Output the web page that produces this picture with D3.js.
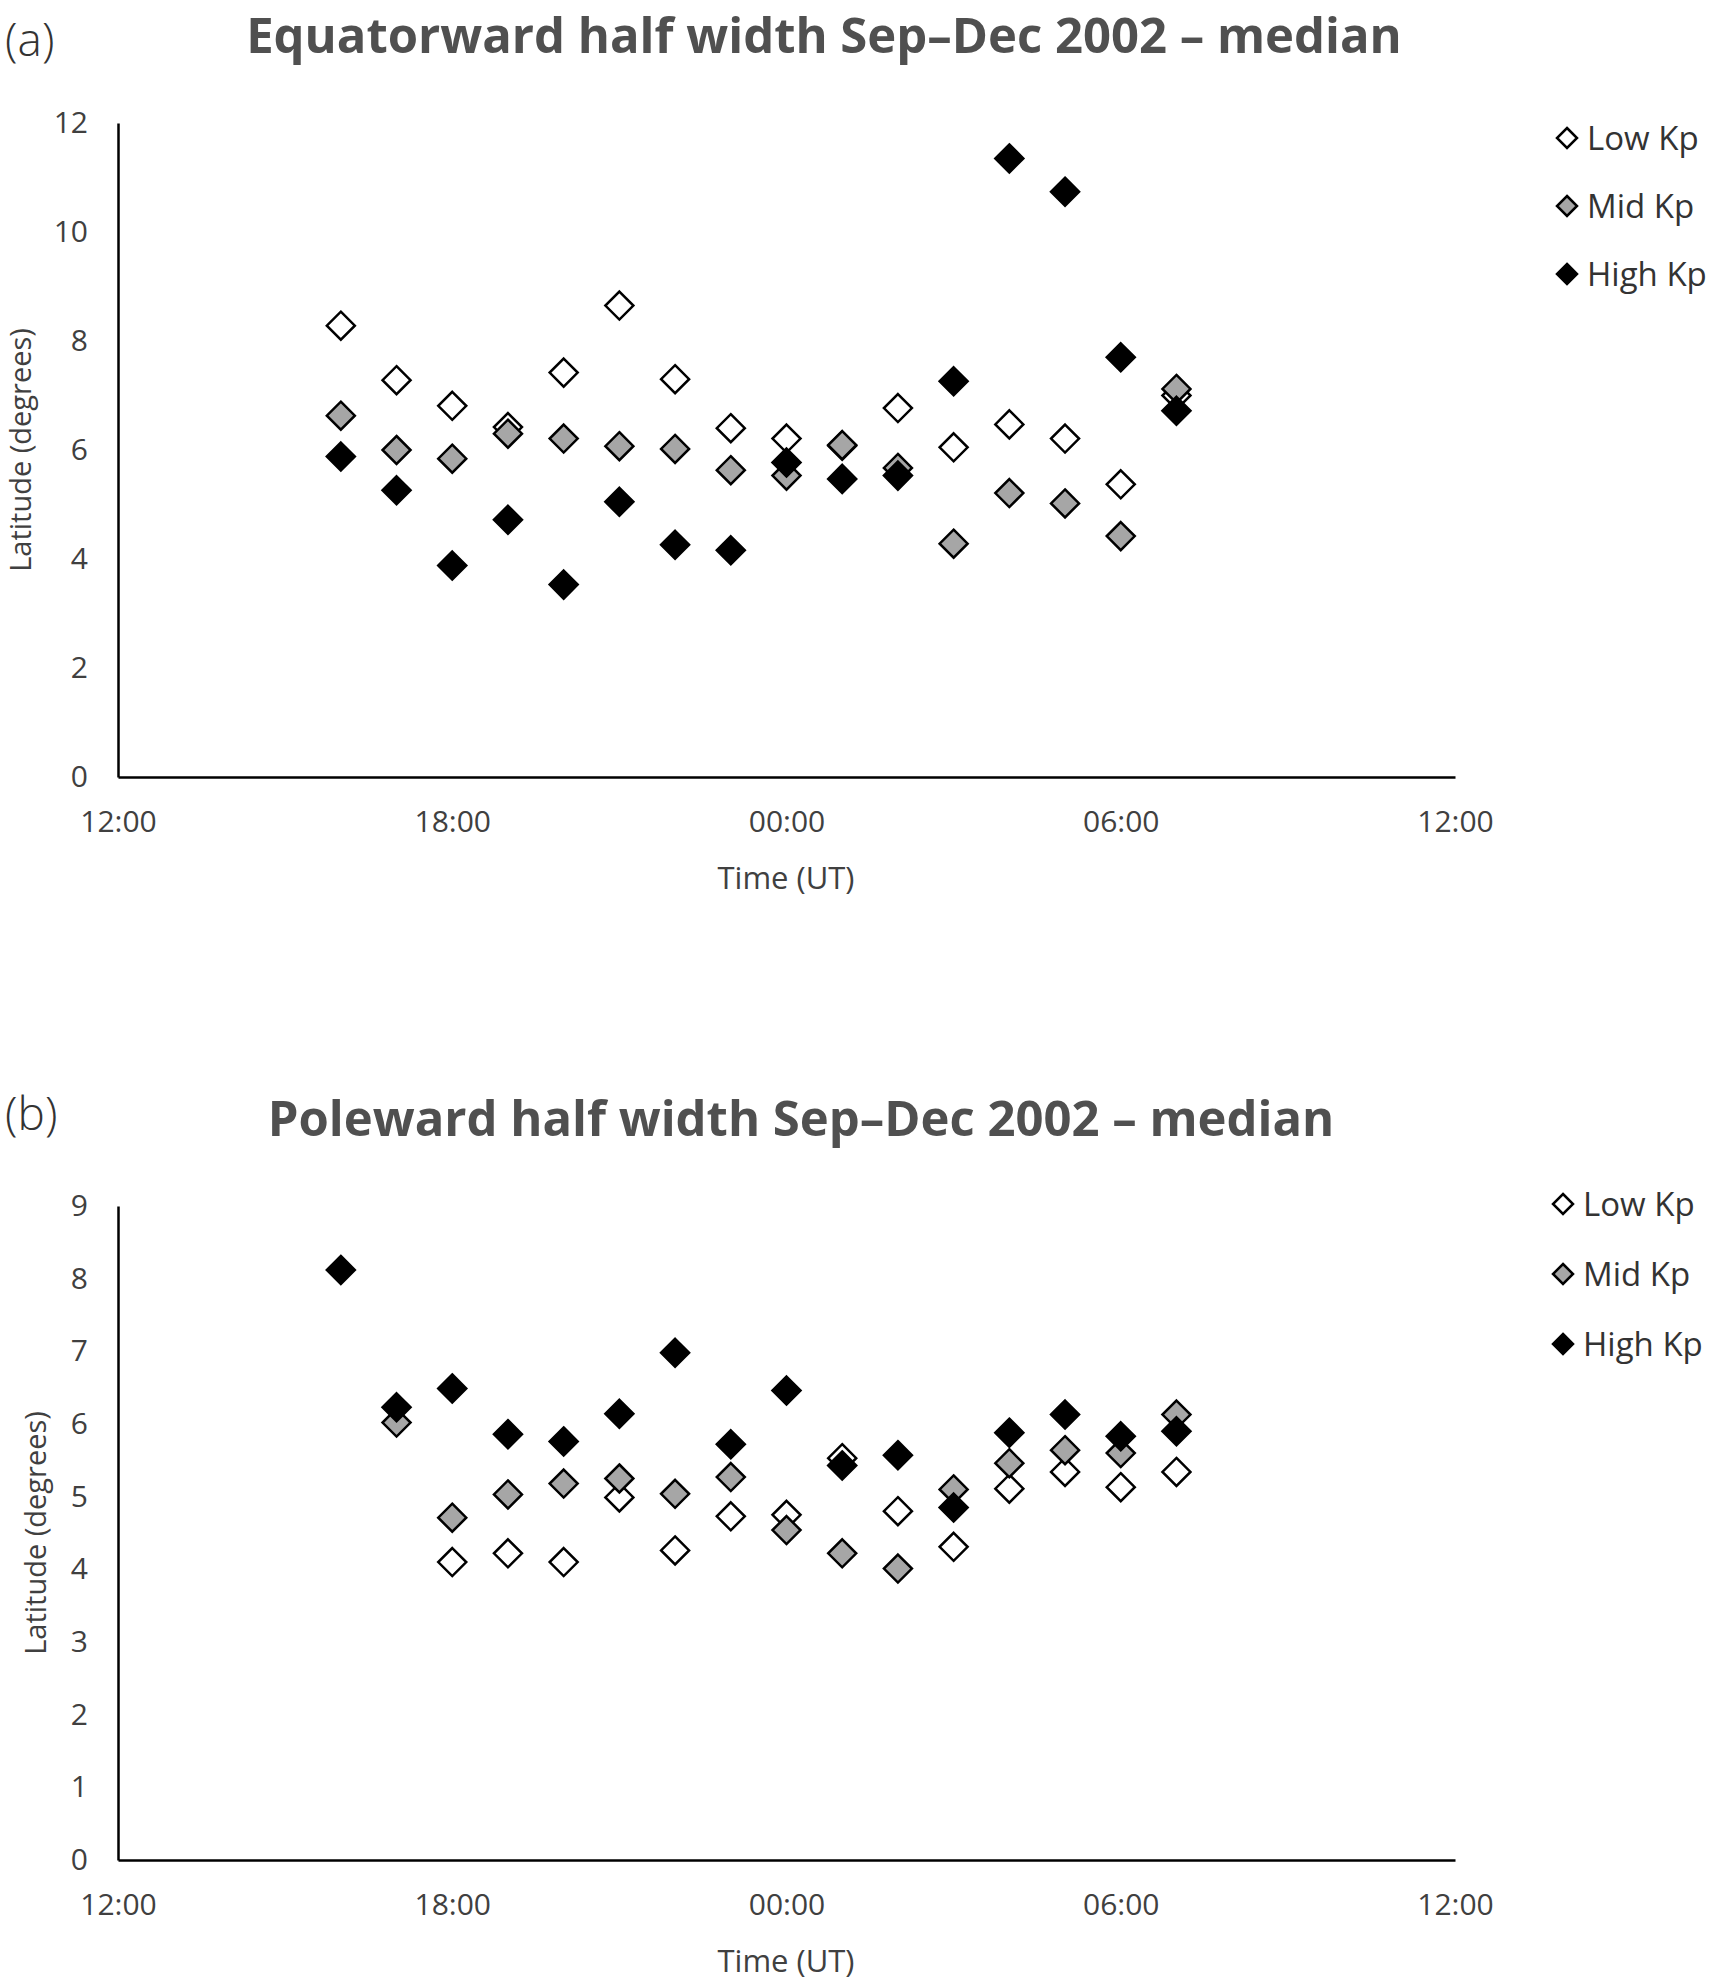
<!DOCTYPE html>
<html>
<head>
<meta charset="UTF-8">
<title>Half width Sep-Dec 2002 - median</title>
<style>
  body { margin: 0; background: #fff; }
  text { font-family: "Open Sans", "Noto Sans", sans-serif; }
</style>
</head>
<body>
<script src="https://d3js.org/d3.v7.min.js"></script>
<svg width="1714" height="1985"></svg>
<script>
// hours measured from 12:00 UT of the first day (24 = 00:00, 30 = 06:00)
var hours = [16, 17, 18, 19, 20, 21, 22, 23, 24, 25, 26, 27, 28, 29, 30, 31];
var xTicks = [12, 18, 24, 30, 36];
var seriesNames = ["Low Kp", "Mid Kp", "High Kp"];

// (a) equatorward half width
var eqLow  = [8.28, 7.28, 6.81, 6.42, 7.42, 8.65, 7.30, 6.40, 6.21, 6.08, 6.77, 6.05, 6.47, 6.21, 5.37, 7.00];
var eqMid  = [6.63, 6.00, 5.84, 6.30, 6.21, 6.07, 6.02, 5.63, 5.53, 6.09, 5.67, 4.28, 5.21, 5.02, 4.42, 7.12];
var eqHigh = [5.88, 5.26, 3.88, 4.72, 3.53, 5.05, 4.26, 4.16, 5.77, 5.47, 5.53, 7.26, 11.35, 10.74, 7.70, 6.72];
var eqTicks = [0, 2, 4, 6, 8, 10, 12];

// (b) poleward half width
var poLow  = [null, null, 4.10, 4.22, 4.10, 4.99, 4.26, 4.73, 4.75, 5.53, 4.80, 4.31, 5.11, 5.34, 5.13, 5.34];
var poMid  = [null, 6.02, 4.71, 5.03, 5.18, 5.25, 5.04, 5.27, 4.54, 4.22, 4.01, 5.10, 5.46, 5.64, 5.60, 6.13];
var poHigh = [8.12, 6.23, 6.49, 5.86, 5.76, 6.14, 6.98, 5.72, 6.46, 5.43, 5.57, 4.85, 5.88, 6.13, 5.83, 5.90];
var poTicks = [0, 1, 2, 3, 4, 5, 6, 7, 8, 9];

var fills = ["#ffffff", "#a6a6a6", "#000000"];
var svg = d3.select("svg");

function diamond(sel, s) {
  sel.attr("d", "M0," + (-s) + "L" + s + ",0L0," + s + "L" + (-s) + ",0Z");
}

function fmtHour(h) {
  return d3.format("02d")(h % 24) + ":00";
}

function drawPanel(p) {
  var x = d3.scaleLinear().domain([12, 36]).range([118, 1455]);
  var y = d3.scaleLinear().domain([0, p.yMax]).range([p.bottom, p.top]);

  svg.append("text")
    .attr("x", 5).attr("y", p.letterY)
    .attr("font-size", 46).attr("fill", "#333")
    .style("font-weight", 300)
    .text(p.letter);

  svg.append("text")
    .attr("x", p.titleX).attr("y", p.top - 70)
    .attr("text-anchor", "middle")
    .attr("font-size", 49).attr("font-weight", "bold").attr("fill", "#505050")
    .text(p.title);

  // axes
  var ya = svg.append("g")
    .attr("transform", "translate(118,0)")
    .call(d3.axisLeft(y).tickValues(p.yTicks).tickSize(0).tickPadding(30));
  ya.select(".domain").attr("stroke", "#000").attr("stroke-width", 2.5);
  ya.selectAll("text").attr("font-size", 30).attr("fill", "#404040").attr("font-family", "Open Sans");

  var xa = svg.append("g")
    .attr("transform", "translate(0," + p.bottom + ")")
    .call(d3.axisBottom(x).tickValues(xTicks).tickFormat(fmtHour).tickSize(0).tickPadding(34));
  xa.select(".domain").attr("stroke", "#000").attr("stroke-width", 2.5);
  xa.selectAll("text").attr("font-size", 30).attr("fill", "#404040").attr("font-family", "Open Sans");

  svg.append("text")
    .attr("x", 786).attr("y", p.bottom + 112)
    .attr("text-anchor", "middle")
    .attr("font-size", 31).attr("fill", "#404040")
    .text("Time (UT)");

  svg.append("text")
    .attr("transform", "translate(" + p.labelX + "," + ((p.top + p.bottom) / 2) + ") rotate(-90)")
    .attr("text-anchor", "middle")
    .attr("font-size", 29).attr("fill", "#404040")
    .text("Latitude (degrees)");

  // points: Low first, then Mid, then High on top
  p.series.forEach(function(vals, i) {
    var pts = hours.map(function(h, j) { return [h, vals[j]]; })
      .filter(function(d) { return d[1] != null; });
    svg.append("g").selectAll("path")
      .data(pts)
      .enter().append("path")
      .call(diamond, 14)
      .attr("transform", function(d) { return "translate(" + x(d[0]) + "," + y(d[1]) + ")"; })
      .attr("fill", fills[i])
      .attr("stroke", "#000")
      .attr("stroke-width", 2.5);
  });

  // legend
  seriesNames.forEach(function(name, i) {
    var ly = p.legendY + i * p.legendStep;
    svg.append("path").call(diamond, 10)
      .attr("transform", "translate(" + p.legendX + "," + ly + ")")
      .attr("fill", fills[i]).attr("stroke", "#000").attr("stroke-width", 2.5);
    svg.append("text")
      .attr("x", p.legendX + 20).attr("y", ly)
      .attr("dy", "0.35em")
      .attr("font-size", 33).attr("fill", "#333")
      .text(name);
  });
}

drawPanel({
  letter: "(a)",
  letterY: 56,
  title: "Equatorward half width Sep\u2013Dec 2002 \u2013 median",
  titleX: 824,
  top: 123, bottom: 777, yMax: 12, yTicks: eqTicks,
  labelX: 31,
  series: [eqLow, eqMid, eqHigh],
  legendX: 1567, legendY: 138, legendStep: 68
});

drawPanel({
  letter: "(b)",
  letterY: 1130,
  title: "Poleward half width Sep\u2013Dec 2002 \u2013 median",
  titleX: 801,
  top: 1206, bottom: 1860, yMax: 9, yTicks: poTicks,
  labelX: 46,
  series: [poLow, poMid, poHigh],
  legendX: 1563, legendY: 1204, legendStep: 70
});
</script>
</body>
</html>
